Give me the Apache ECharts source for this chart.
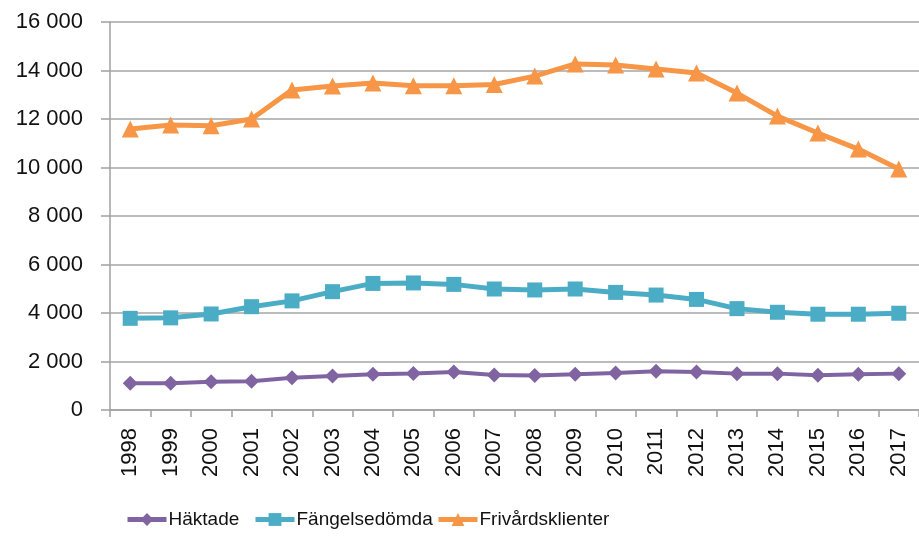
<!DOCTYPE html>
<html>
<head>
<meta charset="utf-8">
<script src="https://cdn.jsdelivr.net/npm/echarts@6/dist/echarts.min.js"></script>
<style>html,body{margin:0;padding:0;background:#fff;}#c{width:919px;height:536px;}</style>
</head>
<body>
<div id="c"></div>
<script>
const years = ['1998','1999','2000','2001','2002','2003','2004','2005','2006','2007','2008','2009','2010','2011','2012','2013','2014','2015','2016','2017'];
const haktade = [1100,1100,1170,1190,1330,1400,1470,1510,1570,1440,1420,1470,1530,1600,1570,1500,1500,1430,1470,1500];
const fangelsedomda = [3780,3800,3960,4260,4500,4880,5220,5240,5180,4990,4950,4990,4850,4740,4560,4180,4030,3950,3950,3990];
const frivard = [11590,11750,11720,12000,13200,13360,13480,13370,13370,13420,13770,14270,14230,14060,13900,13070,12120,11420,10760,9940];
const seriesNames = ['Häktade','Fängelsedömda','Frivårdsklienter'];
const yTicks = {min:0, max:16000, interval:2000};

const FONT = '"Liberation Sans",Arial,sans-serif';
const legendLefts = [125, 253, 436];
const chart = echarts.init(document.getElementById('c'), null, {renderer:'canvas'});
chart.setOption({
  animation:false,
  backgroundColor:'#fff',
  textStyle:{fontFamily:FONT},
  grid:{left:110, top:22, width:815, bottom:126, containLabel:false},
  legend:seriesNames.map((n,i)=>({
    left:legendLefts[i], bottom:7, padding:0, itemWidth:39, itemHeight:16,
    lineStyle:{width:5},
    textStyle:{fontFamily:FONT, fontSize:19, color:'#111', padding:[0,0,0,-3]},
    data:[n]
  })),
  xAxis:{
    type:'category', data:years, boundaryGap:true,
    axisLine:{lineStyle:{color:'#a0a0a0', width:1.5}},
    axisTick:{show:true, length:7, lineStyle:{color:'#a0a0a0', width:1.5}},
    axisLabel:{rotate:90, fontSize:22, color:'#111', fontFamily:FONT, margin:18, interval:0}
  },
  yAxis:{
    type:'value', min:yTicks.min, max:yTicks.max, interval:yTicks.interval,
    axisLine:{show:true, lineStyle:{color:'#a0a0a0', width:1.5}},
    axisTick:{show:true, length:9, lineStyle:{color:'#a0a0a0', width:1.5}},
    splitLine:{lineStyle:{color:'#a6a6a6', width:1.5}},
    axisLabel:{fontSize:22, color:'#111', fontFamily:FONT, margin:27,
      formatter:v=>String(v).replace(/\B(?=(\d{3})+(?!\d))/g,' ')}
  },
  series:[
    {name:seriesNames[0], type:'line', data:haktade, symbol:'diamond', symbolSize:15,
     lineStyle:{color:'#8064A2', width:4}, itemStyle:{color:'#8064A2'}},
    {name:seriesNames[1], type:'line', data:fangelsedomda, symbol:'rect', symbolSize:15,
     lineStyle:{color:'#4BACC6', width:5}, itemStyle:{color:'#4BACC6'}},
    {name:seriesNames[2], type:'line', data:frivard, symbol:'triangle', symbolSize:17,
     lineStyle:{color:'#F79646', width:5}, itemStyle:{color:'#F79646'}}
  ]
});
</script>
</body>
</html>
